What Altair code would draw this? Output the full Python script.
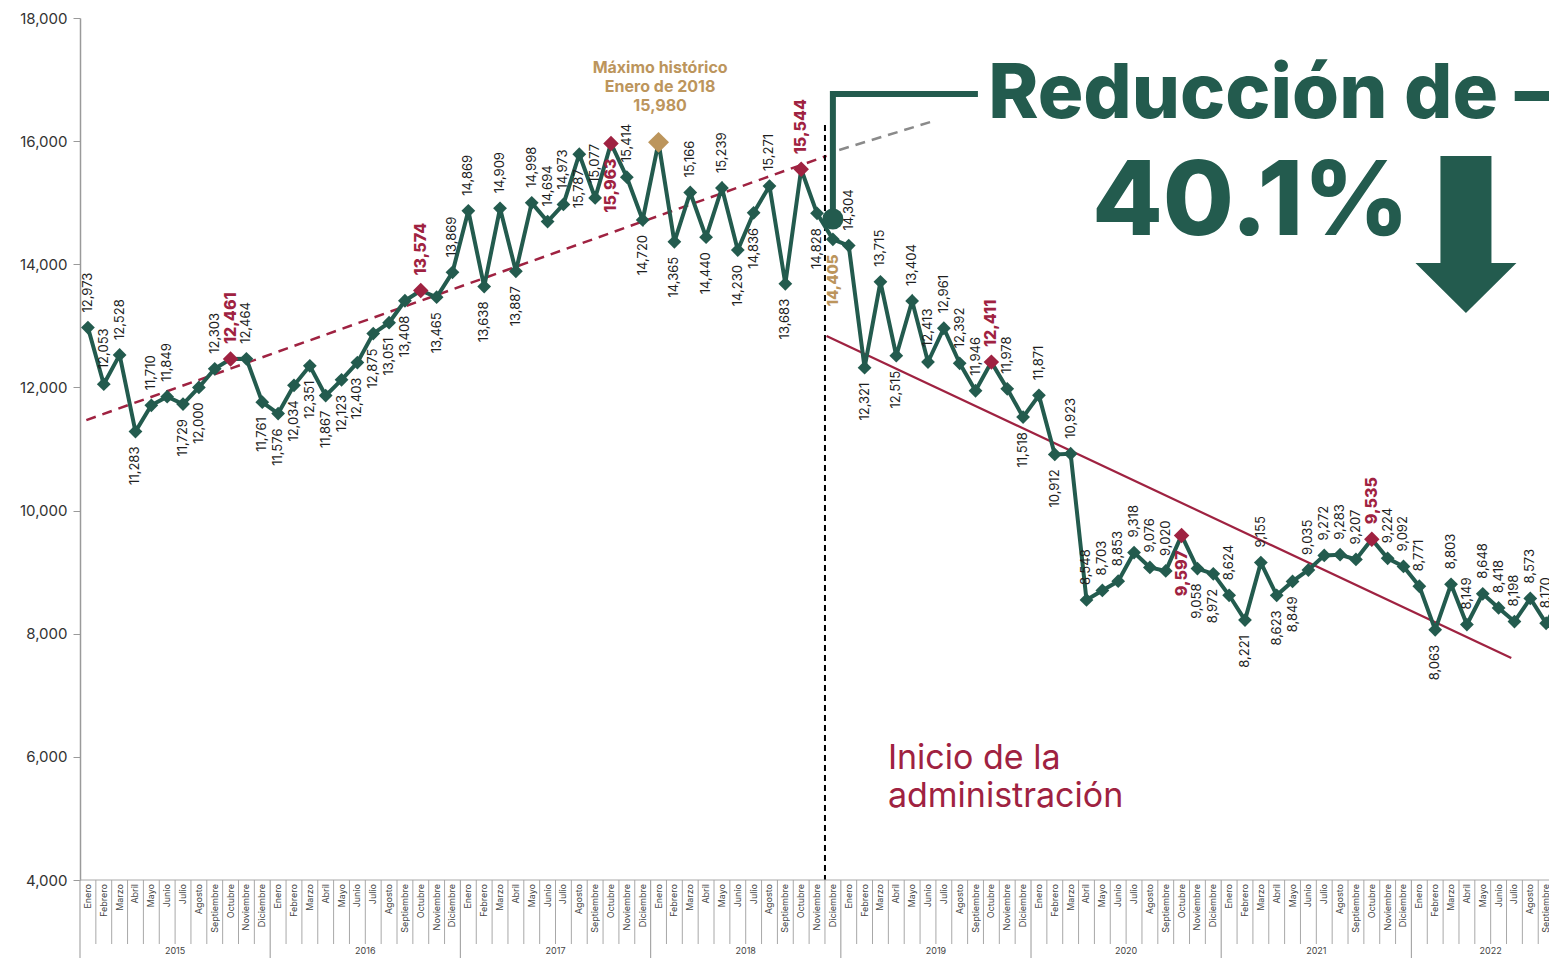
import altair as alt
import pandas as pd
import numpy as np

FONT = "Inter"
GREEN = "#235B4E"
RED = "#9F2241"
GOLD = "#BC955C"

months = ["Enero", "Febrero", "Marzo", "Abril", "Mayo", "Junio", "Julio",
          "Agosto", "Septiembre", "Octubre", "Noviembre", "Diciembre"]
years = [2015, 2016, 2017, 2018, 2019, 2020, 2021, 2022]

v2015 = [12973, 12053, 12528, 11283, 11710, 11849, 11729, 12000, 12303, 12461, 12464, 11761]
v2016 = [11576, 12034, 12351, 11867, 12123, 12403, 12875, 13051, 13408, 13574, 13465, 13869]
v2017 = [14869, 13638, 14909, 13887, 14998, 14694, 14973, 15787, 15077, 15963, 15414, 14720]
v2018 = [15980, 14365, 15166, 14440, 15239, 14230, 14836, 15271, 13683, 15544, 14828, 14405]
v2019 = [14304, 12321, 13715, 12515, 13404, 12413, 12961, 12392, 11946, 12411, 11978, 11518]
v2020 = [11871, 10912, 10923, 8548, 8703, 8853, 9318, 9076, 9020, 9597, 9058, 8972]
v2021 = [8624, 8221, 9155, 8623, 8849, 9035, 9272, 9283, 9207, 9535, 9224, 9092]
v2022 = [8771, 8063, 8803, 8149, 8648, 8418, 8198, 8573, 8170, 8628]
values_by_year = [v2015, v2016, v2017, v2018, v2019, v2020, v2021, v2022]

# which side of the marker each value label sits on
s2015 = ["up", "up", "up", "down", "up", "up", "down", "down", "up", "up", "up", "down"]
s2016 = ["down", "down", "down", "down", "down", "down", "down", "down", "down", "up", "down", "up"]
s2017 = ["up", "down", "up", "down", "up", "up", "up", "down", "up", "down", "up", "down"]
s2018 = ["none", "down", "up", "down", "up", "down", "down", "up", "down", "up", "down", "down"]
s2019 = ["up", "down", "up", "down", "up", "up", "up", "up", "up", "up", "up", "down"]
s2020 = ["up", "down", "up", "up", "up", "up", "up", "up", "up", "down", "down", "down"]
s2021 = ["up", "down", "up", "down", "down", "up", "up", "up", "up", "up", "up", "up"]
s2022 = ["up", "down", "up", "up", "up", "up", "up", "up", "up", "up"]
sides_by_year = [s2015, s2016, s2017, s2018, s2019, s2020, s2021, s2022]

# trend lines (month index, value)
trend_pre_x = [-0.1, 46.6]
trend_pre_y = [11470, 15760]
trend_ext_x = [47.4, 53.4]
trend_ext_y = [15857, 16330]
trend_post_x = [46.6, 89.8]
trend_post_y = [12836, 7606]
admin_start_idx = 46.5

rows = []
for yi, (yr, vals, sides) in enumerate(zip(years, values_by_year, sides_by_year)):
    for mi, (v, s) in enumerate(zip(vals, sides)):
        rows.append(dict(idx=yi * 12 + mi, v=v, month=months[mi], year=yr,
                         side=s, label=f"{v:,}"))
df = pd.DataFrame(rows)
maxv = df.v.max()
df["kind"] = np.where(df.v == maxv, "max",
              np.where(df.month == "Octubre", "oct",
              np.where(df.idx == 47, "start", "normal")))

W, H = 1469, 862
X_END = 92.18
xs = alt.Scale(domain=[-0.5, X_END], nice=False, zero=False)
ys = alt.Scale(domain=[4000, 18000], nice=False, zero=False)
yaxis = alt.Axis(values=list(range(4000, 18001, 2000)), title=None,
                 labelExpr="format(datum.value, ',')",
                 labelFont=FONT, labelFontSize=15, labelColor="#333",
                 domainColor="#9a9a9a", domainWidth=1.5, tickColor="#9a9a9a",
                 tickSize=7, labelPadding=6, grid=False)
X = lambda f="idx": alt.X(f"{f}:Q", scale=xs, axis=None)
Y = lambda f="v": alt.Y(f"{f}:Q", scale=ys, axis=yaxis)

layers = []

# trend lines
tp = pd.DataFrame({"idx": trend_pre_x, "v": trend_pre_y})
layers.append(alt.Chart(tp).mark_line(color=RED, strokeWidth=2.5, strokeDash=[10, 7])
              .encode(x=X(), y=Y()))
te = pd.DataFrame({"idx": trend_ext_x, "v": trend_ext_y})
layers.append(alt.Chart(te).mark_line(color="#8a8a8a", strokeWidth=2.5, strokeDash=[10, 7])
              .encode(x=X(), y=Y()))
tq = pd.DataFrame({"idx": trend_post_x, "v": trend_post_y})
layers.append(alt.Chart(tq).mark_line(color=RED, strokeWidth=2.2)
              .encode(x=X(), y=Y()))
vd = pd.DataFrame({"idx": [admin_start_idx], "v": [16262], "v2": [4000]})
layers.append(alt.Chart(vd).mark_rule(color="black", strokeWidth=2, strokeDash=[6, 4])
              .encode(x=X(), y=Y(), y2="v2:Q"))

# data line and markers
layers.append(alt.Chart(df).mark_line(color=GREEN, strokeWidth=4)
              .encode(x=X(), y=Y(), order="idx:Q"))
for kind, col, sz in [("normal", GREEN, 190), ("start", GREEN, 190), ("oct", RED, 240), ("max", GOLD, 440)]:
    layers.append(alt.Chart(df[df.kind == kind]).mark_point(
        shape="diamond", filled=True, opacity=1, strokeWidth=0, color=col, size=sz)
        .encode(x=X(), y=Y()))

# value labels
def labels(sub, side, color, weight, size, gap):
    return alt.Chart(sub).mark_text(
        angle=270, align="left" if side == "up" else "right", baseline="middle",
        dx=gap if side == "up" else -gap, font=FONT, fontSize=size,
        fontWeight=weight, color=color).encode(x=X(), y=Y(), text="label:N")

for side in ["up", "down"]:
    sub = df[(df.side == side) & (df.kind == "normal")]
    layers.append(labels(sub, side, "#1e1e1e", 400, 13, 15))
    sub = df[(df.side == side) & (df.kind == "oct") & (df.idx < 93)]
    layers.append(labels(sub, side, RED, 800, 16, 15))
    sub = df[(df.side == side) & (df.kind == "start")]
    layers.append(labels(sub, side, GOLD, 800, 15, 15))

# maximum annotation
mx = df[df.kind == "max"].iloc[0]
max_lines = pd.DataFrame({"idx": [mx.idx + 0.1] * 3, "v": [17190, 16880, 16570],
                          "t": ["Máximo histórico", "Enero de 2018", f"{int(mx.v):,}"]})
layers.append(alt.Chart(max_lines).mark_text(font=FONT, fontSize=16, fontWeight=700,
                                              color=GOLD, align="center", baseline="middle")
              .encode(x=X(), y=Y(), text="t:N"))

# bracket to headline
br = pd.DataFrame({"idx": [47.0, 47.0, 56.15], "v": [14736, 16766, 16766], "o": [0, 1, 2]})
layers.append(alt.Chart(br).mark_line(color=GREEN, strokeWidth=6, strokeJoin="miter")
              .encode(x=X(), y=Y(), order="o:Q"))
circ = pd.DataFrame({"idx": [47.0, 93.0], "v": [14736, 10220], "s": [441, 500]})
layers.append(alt.Chart(circ).mark_point(shape="circle", filled=True, opacity=1, color=GREEN, strokeWidth=0)
              .encode(x=X(), y=Y(), size=alt.Size("s:Q", scale=None, legend=None)))

head = pd.DataFrame({"idx": [56.8], "v": [16376], "t": ["Reducción de –"]})
layers.append(alt.Chart(head).mark_text(font=FONT, fontSize=76, fontWeight=800, color=GREEN,
                                         align="left", baseline="alphabetic")
              .encode(x=X(), y=Y(), text="t:N"))
pct = pd.DataFrame({"idx": [63.34], "v": [14476], "t": ["40.1%"]})
layers.append(alt.Chart(pct).mark_text(font=FONT, fontSize=103, fontWeight=800, color=GREEN,
                                        align="left", baseline="alphabetic")
              .encode(x=X(), y=Y(), text="t:N"))
arrow = pd.DataFrame({"idx": [86.94], "v": [14021]})
layers.append(alt.Chart(arrow).mark_point(
    shape="M -0.505 -2.12 L 0.505 -2.12 L 0.505 0 L 1 0 L 0 0.99 L -1 0 L -0.505 0 Z",
    size=10201, filled=True, opacity=1, color=GREEN, strokeWidth=0)
    .encode(x=X(), y=Y()))

ini = pd.DataFrame({"idx": [50.47, 50.47], "v": [5965, 5348], "t": ["Inicio de la", "administración"]})
layers.append(alt.Chart(ini).mark_text(font=FONT, fontSize=34, fontWeight=400, color=RED,
                                        align="left", baseline="middle")
              .encode(x=X(), y=Y(), text="t:N"))

# bottom month / year axis
BOT = 78
border = pd.DataFrame({"idx": [-0.5], "idx2": [X_END], "v": [4000]})
layers.append(alt.Chart(border).mark_rule(color="#a8a8a8", strokeWidth=1)
              .encode(x=X(), x2="idx2:Q", y=Y()))
seps = pd.DataFrame({"idx": [k - 0.5 for k in range(0, 94)]})
seps["yr"] = [(k % 12 == 0) for k in range(0, 94)]
layers.append(alt.Chart(seps[~seps.yr]).mark_rule(color="#a8a8a8", strokeWidth=1)
              .encode(x=X(), y=alt.value(H), y2=alt.value(H + 64)))
layers.append(alt.Chart(seps[seps.yr]).mark_rule(color="#a8a8a8", strokeWidth=1.2)
              .encode(x=X(), y=alt.value(H), y2=alt.value(H + BOT)))
layers.append(alt.Chart(df).mark_text(angle=270, align="right", baseline="middle",
                                       font=FONT, fontSize=9, color="#444")
              .encode(x=X(), y=alt.value(H + 4), text="month:N"))
yl = df.groupby("year", as_index=False).idx.mean()
yl["t"] = yl.year.astype(str)
layers.append(alt.Chart(yl).mark_text(align="center", baseline="middle", font=FONT,
                                       fontSize=9, color="#444")
              .encode(x=X(), y=alt.value(H + 71), text="t:N"))

chart = alt.layer(*layers).properties(
    width=W, height=H,
    background="white",
    autosize=alt.AutoSizeParams(type="none"),
    padding={"left": 72, "top": 10, "right": 0, "bottom": BOT},
).configure_view(strokeWidth=0, stroke="transparent")

chart.save("out.html", embed_options={"renderer": "svg", "actions": False})
